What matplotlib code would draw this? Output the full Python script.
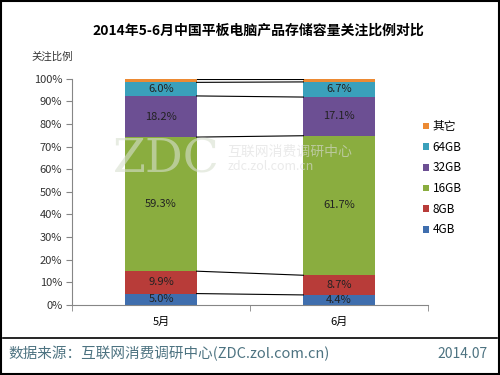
"""Stacked bar chart: storage capacity attention share, May vs June 2014."""

import numpy as np
import matplotlib
matplotlib.use("Agg")
import matplotlib.pyplot as plt
from matplotlib.patches import Rectangle

plt.rcParams["font.family"] = ["Noto Sans CJK SC", "DejaVu Sans"]

months = ["5月", "6月"]
series = ["4GB", "8GB", "16GB", "32GB", "64GB", "其它"]
share_may = [5.0, 9.9, 59.3, 18.2, 6.0, 1.6]
share_jun = [4.4, 8.7, 61.7, 17.1, 6.7, 1.4]
labels_may = ["5.0%", "9.9%", "59.3%", "18.2%", "6.0%", ""]
labels_jun = ["4.4%", "8.7%", "61.7%", "17.1%", "6.7%", ""]
colors = ["#3f6eae", "#b83c39", "#8aad3f", "#6c4f93", "#3aa0bb", "#ec8a33"]

BAR_W = 0.4


def main():
    fig = plt.figure(figsize=(5, 3.75), dpi=100)
    ax = fig.add_axes([0.144, 0.187, 0.712, 0.603])

    x = np.arange(len(months))
    data = np.array([share_may, share_jun])
    texts = [labels_may, labels_jun]
    bottoms = np.zeros(len(months))
    for i, name in enumerate(series):
        vals = data[:, i]
        ax.bar(x, vals, BAR_W, bottom=bottoms, color=colors[i], label=name,
               zorder=2)
        for j in range(len(months)):
            if texts[j][i]:
                ax.text(x[j], bottoms[j] + vals[j] / 2, texts[j][i],
                        ha="center", va="center", fontsize=8,
                        color="#222222", zorder=4)
        tops = bottoms + vals
        # series lines between bars
        ax.plot([x[0] + BAR_W / 2, x[1] - BAR_W / 2], [tops[0], tops[1]],
                color="black", lw=0.8, zorder=3)
        bottoms = tops

    ax.set_xlim(-0.5, 1.5)
    ax.set_ylim(0, 100)
    ax.set_yticks(np.arange(0, 101, 10))
    ax.set_yticklabels([f"{v}%" for v in range(0, 101, 10)], fontsize=8,
                       color="#333333")
    ax.set_xticks(x)
    ax.set_xticklabels(months, fontsize=8)
    ax.set_xticks([-0.5, 0.5, 1.5], minor=True)
    ax.tick_params(axis="x", which="major", length=0, pad=9)
    ax.tick_params(axis="x", which="minor", length=4, color="#868686")
    ax.tick_params(axis="y", length=4, color="#868686", pad=3)
    for s in ["top", "right"]:
        ax.spines[s].set_visible(False)
    for s in ["left", "bottom"]:
        ax.spines[s].set_color("#868686")

    handles, labs = ax.get_legend_handles_labels()
    ax.legend(handles[::-1], labs[::-1], loc="center left",
              bbox_to_anchor=(0.955, 0.56), frameon=False, fontsize=8.5,
              handlelength=0.5, handleheight=0.5, handletextpad=0.35,
              labelspacing=0.65)

    # watermark
    fig.text(0.44, 0.575, "ZDC", fontsize=34, color="#d8e0cf", alpha=0.6,
             ha="right", va="center", family="DejaVu Serif", zorder=5)
    fig.text(0.455, 0.595, "互联网消费调研中心", fontsize=10, color="#dcdcdc",
             alpha=0.6, ha="left", va="center", zorder=5)
    fig.text(0.455, 0.555, "zdc.zol.com.cn", fontsize=9, color="#dcdcdc",
             alpha=0.6, ha="left", va="center", zorder=5)

    fig.text(0.516, 0.917, "2014年5-6月中国平板电脑产品存储容量关注比例对比",
             ha="center", va="center", fontsize=10, fontweight="bold")
    fig.text(0.062, 0.85, "关注比例", ha="left", va="center", fontsize=7.5,
             color="#333333")

    fig.add_artist(plt.Line2D([0.006, 0.994], [0.099, 0.099],
                              color="black", lw=1.2))
    fig.text(0.016, 0.056, "数据来源：互联网消费调研中心(ZDC.zol.com.cn)",
             ha="left", va="center", fontsize=10.5, color="#4d7381")
    fig.text(0.976, 0.056, "2014.07", ha="right", va="center", fontsize=10,
             color="#4d7381")

    fig.add_artist(Rectangle((0.002, 0.003), 0.996, 0.994, fill=False,
                             edgecolor="black", lw=1.5,
                             transform=fig.transFigure))

    fig.savefig("out.png", dpi=100)
    plt.close(fig)


if __name__ == "__main__":
    main()
